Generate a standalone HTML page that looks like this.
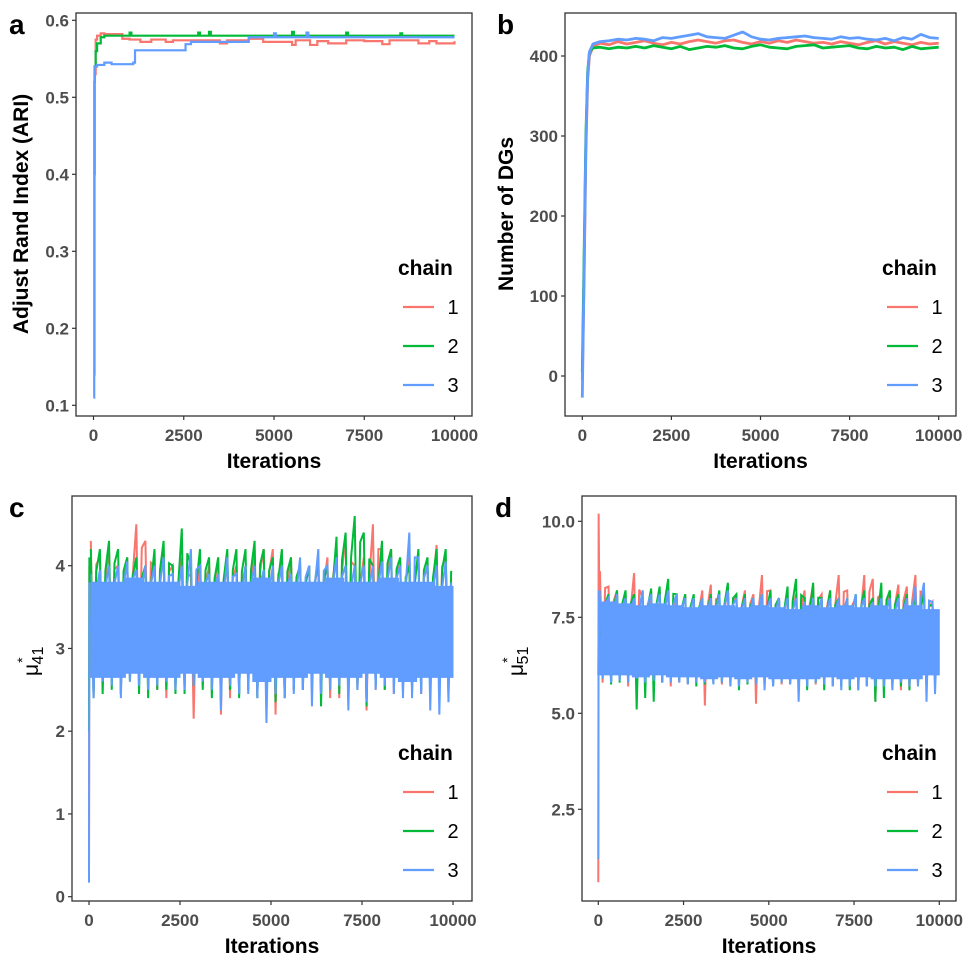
<!DOCTYPE html>
<html><head><meta charset="utf-8">
<style>
html,body{margin:0;padding:0;background:#fff;}
svg{display:block;font-family:"Liberation Sans",sans-serif;}
.tick{font-size:17px;font-weight:bold;fill:#4d4d4d;}
.atitle{font-size:21px;font-weight:bold;fill:#000;}
.letter{font-size:28px;font-weight:bold;fill:#000;}
.legt{font-size:21px;font-weight:bold;fill:#000;}
.legl{font-size:20px;fill:#000;}
</style></head>
<body>
<svg id="fig" width="969" height="969" viewBox="0 0 969 969"></svg>
<script>
// ---------- Panel a: ARI step traces ----------
const aRedIter = [0,30,60,100,200,300,800,1000,1300,1600,2000,2200,3500,3700,4300,4700,5500,5600,6000,6200,6500,7000,7500,8000,8200,9000,9300,9500,10000];
const aRedVal  = [0.14,0.53,0.575,0.58,0.583,0.582,0.576,0.575,0.572,0.575,0.572,0.574,0.57,0.574,0.576,0.572,0.568,0.574,0.568,0.573,0.57,0.574,0.573,0.569,0.574,0.57,0.573,0.57,0.573];
const aGreenIter = [0,30,60,100,200,300,500,1000,1050,2900,2950,3200,3250,5500,5550,7000,7050,8500,8550,10000];
const aGreenVal  = [0.4,0.54,0.56,0.57,0.578,0.58,0.58,0.584,0.58,0.584,0.58,0.585,0.58,0.585,0.58,0.584,0.58,0.583,0.58,0.58];
const aBlueIter = [0,20,40,100,300,500,1100,1150,2500,2550,2700,4300,5000,5050,5900,5950,10000];
const aBlueVal  = [0.11,0.52,0.54,0.542,0.545,0.543,0.545,0.561,0.561,0.569,0.572,0.578,0.583,0.578,0.584,0.578,0.578];
const aYTicks = [0.1,0.2,0.3,0.4,0.5,0.6];
const aYTickLabels = ["0.1","0.2","0.3","0.4","0.5","0.6"];

// ---------- Panel b: number of DGs ----------
const bIter = [0,50,100,150,200,300,500,750,1000,1250,1500,1750,2000,2250,2500,2750,3000,3250,3500,3750,4000,4250,4500,4750,5000,5250,5500,5750,6000,6250,6500,6750,7000,7250,7500,7750,8000,8250,8500,8750,9000,9250,9500,9750,10000];
const bRed   = [-5,120,280,370,400,412,416,414,418,415,417,419,416,414,417,415,418,420,418,416,419,420,417,415,418,416,419,417,420,418,416,417,415,418,416,414,417,419,415,418,416,414,417,415,416];
const bGreen = [5,150,300,380,405,410,411,409,411,410,412,410,413,411,409,412,408,410,412,411,413,410,409,412,414,411,410,409,412,413,414,410,411,412,413,410,409,412,410,411,408,412,409,410,411];
const bBlue  = [-27,130,290,375,405,415,418,419,421,420,422,421,419,423,422,424,426,428,424,423,422,426,430,424,421,420,422,423,424,425,423,422,421,424,422,423,421,420,422,419,423,421,427,423,422];
const bYTicks = [0,100,200,300,400];
const bYTickLabels = ["0","100","200","300","400"];

// ---------- Panel c: mu*41 (per-bin extremes, 40 bins of 250 iterations) ----------
const cInitIter = [0,10,30];
const cRedInit = [0.3,4.0,3.2];
const cGreenInit = [2.0,4.1,3.2];
const cBlueInit = [0.17,3.8,3.2];
const cRedHi = [4.3,4.1,4.2,4.0,4.1,4.5,4.3,4.0,4.2,4.0,4.1,3.9,4.0,4.0,4.1,4.1,4.0,4.0,4.2,4.2,4.2,4.0,4.1,4.0,4.0,4.0,4.1,4.2,4.35,4.0,4.1,4.5,4.2,4.2,4.0,4.1,4.1,4.0,4.25,4.1];
const cRedLo = [2.4,2.5,2.6,2.45,2.6,2.6,2.55,2.5,2.4,2.5,2.5,2.15,2.55,2.5,2.2,2.4,2.45,2.5,2.4,2.3,2.2,2.4,2.5,2.5,2.5,2.45,2.4,2.4,2.35,2.5,2.25,2.5,2.5,2.45,2.5,2.5,2.45,2.5,2.5,2.5];
const cGreenHi = [4.2,4.2,4.3,4.2,4.1,4.1,4.0,4.2,4.3,4.0,4.45,4.0,4.2,4.1,4.1,4.2,4.2,4.2,4.3,4.2,4.1,4.2,4.1,4.0,4.0,4.1,4.0,4.35,4.4,4.6,4.4,4.0,4.3,4.2,4.1,4.0,4.2,4.1,4.2,4.2];
const cGreenLo = [2.4,2.45,2.5,2.45,2.6,2.45,2.4,2.5,2.5,2.45,2.45,2.55,2.5,2.4,2.35,2.5,2.4,2.5,2.4,2.5,2.35,2.4,2.5,2.5,2.5,2.3,2.5,2.45,2.4,2.5,2.3,2.55,2.5,2.6,2.5,2.5,2.5,2.45,2.5,2.45];
const cBlueHi = [3.9,3.95,4.0,4.0,4.05,3.95,4.0,4.0,4.1,3.9,4.0,4.2,4.0,3.9,3.9,4.1,3.9,4.0,4.0,3.95,4.0,4.0,3.9,4.1,4.0,4.2,4.0,4.1,4.0,4.0,4.0,4.0,4.05,4.1,4.0,4.4,4.1,4.0,4.0,4.05];
const cBlueLo = [2.4,2.6,2.55,2.4,2.6,2.55,2.5,2.55,2.6,2.5,2.5,2.55,2.6,2.5,2.25,2.55,2.45,2.45,2.4,2.1,2.45,2.4,2.45,2.5,2.3,2.45,2.5,2.55,2.25,2.5,2.35,2.5,2.55,2.45,2.4,2.4,2.45,2.25,2.2,2.35];
const cBlueCoreHi = [3.8,3.8,3.85,3.8,3.8,3.75,3.8,3.8,3.8,3.85,3.8,3.8,3.8,3.85,3.8,3.8,3.85,3.8,3.8,3.75];
const cBlueCoreLo = [2.65,2.65,2.7,2.65,2.65,2.7,2.65,2.65,2.7,2.6,2.65,2.65,2.7,2.65,2.65,2.7,2.65,2.6,2.65,2.65];
const cYTicks = [0,1,2,3,4];
const cYTickLabels = ["0","1","2","3","4"];

// ---------- Panel d: mu*51 ----------
const dInitIter = [0,10,30];
const dRedInit = [0.6,10.2,8.0];
const dGreenInit = [6.0,7.5,7.0];
const dBlueInit = [1.2,8.2,7.0];
const dRedHi = [8.7,8.3,8.2,8.1,8.65,8.0,8.1,8.2,8.0,8.0,8.1,8.0,8.2,8.35,8.0,8.3,8.1,8.2,8.1,8.6,8.2,8.0,8.0,8.1,8.2,8.35,8.1,8.2,8.6,8.2,8.0,8.6,8.5,8.1,8.2,8.35,8.3,8.6,8.1,7.9];
const dRedLo = [5.8,5.8,5.9,5.7,5.8,5.75,5.8,5.8,5.7,5.8,5.75,5.8,5.2,5.8,5.75,5.8,5.8,5.8,5.25,5.8,5.7,5.75,5.8,5.7,5.8,5.75,5.7,5.8,5.7,5.7,5.7,5.75,5.3,5.7,5.65,5.6,5.6,5.7,5.8,5.9];
const dGreenHi = [8.2,8.1,8.2,8.2,8.1,8.2,8.25,8.3,8.5,8.1,8.1,8.1,8.0,8.1,8.2,8.4,8.1,8.1,8.0,8.1,8.2,8.0,8.3,8.5,8.0,8.4,8.0,8.2,8.0,8.0,8.1,8.2,8.0,8.4,8.2,8.1,8.1,8.0,8.2,7.8];
const dGreenLo = [5.9,5.75,5.8,5.9,5.1,5.4,5.3,5.8,5.9,5.85,5.8,5.7,5.75,5.8,5.8,5.7,5.6,5.75,5.8,5.7,5.7,5.8,5.75,5.7,5.6,5.8,5.6,5.7,5.7,5.6,5.6,5.7,5.3,5.4,5.7,5.7,5.6,5.8,5.7,5.9];
const dBlueHi = [8.2,8.0,8.1,8.0,8.0,8.2,8.1,8.1,8.2,8.1,8.0,8.0,8.0,8.0,8.1,8.2,8.0,8.0,8.0,8.1,8.0,8.0,8.0,8.0,7.9,8.0,8.0,8.0,8.0,8.0,8.1,8.0,7.9,8.0,8.0,8.0,8.0,8.3,8.4,7.9];
const dBlueLo = [5.9,5.8,5.85,5.8,5.9,5.8,5.85,5.8,5.8,5.8,5.75,5.8,5.8,5.75,5.8,5.7,5.7,5.8,5.75,5.6,5.7,5.8,5.75,5.3,5.7,5.8,5.75,5.7,5.6,5.7,5.6,5.7,5.7,5.7,5.6,5.8,5.7,5.7,5.3,5.5];
const dBlueCoreHi = [7.9,7.85,7.8,7.85,7.8,7.75,7.8,7.8,7.75,7.8,7.75,7.7,7.8,7.75,7.8,7.75,7.8,7.7,7.8,7.7];
const dBlueCoreLo = [6.0,6.0,5.95,6.0,5.95,5.95,5.9,5.95,5.9,5.95,5.9,5.9,5.9,5.95,5.9,5.95,5.9,5.9,5.9,6.0];
const dYTicks = [2.5,5.0,7.5,10.0];
const dYTickLabels = ["2.5","5.0","7.5","10.0"];

const xTicks = [0,2500,5000,7500,10000];
const xTickLabels = ["0","2500","5000","7500","10000"];
const chains = ["1","2","3"];
const COLORS = ["#F8766D","#00BA38","#619CFF"];

const NS = "http://www.w3.org/2000/svg";
const svg = document.getElementById("fig");
function mk(tag, attrs, parent){
  const e = document.createElementNS(NS, tag);
  for (const k in attrs) e.setAttribute(k, attrs[k]);
  (parent||svg).appendChild(e);
  return e;
}
function linScale(d0,d1,r0,r1){ return v => r0 + (v-d0)*(r1-r0)/(d1-d0); }

function frame(P, g){
  const box = mk("rect",{x:P.bx0,y:P.by0,width:P.bx1-P.bx0,height:P.by1-P.by0,fill:"none",stroke:"#333",
    "stroke-width":1.3},g);
  
  
  P.yTicks.forEach((t,i)=>{
    const y = P.y(t);
    const tk = mk("line",{x1:P.bx0-4,x2:P.bx0,y1:y,y2:y,stroke:"#333","stroke-width":1.2},g);
    
    
    const lb = mk("text",{x:P.bx0-7,y:y+6,"text-anchor":"end",class:"tick"},g);
    lb.textContent = P.yLabels[i];
    
    
  });
  xTicks.forEach((t,i)=>{
    const x = P.x(t);
    const tk = mk("line",{x1:x,x2:x,y1:P.by1,y2:P.by1+4,stroke:"#333","stroke-width":1.2},g);
    
    
    const lb = mk("text",{x:x,y:P.by1+25,"text-anchor":"middle",class:"tick"},g);
    lb.textContent = xTickLabels[i];
    
    
  });
  const xt = mk("text",{x:(P.bx0+P.bx1)/2,y:P.by1+52,"text-anchor":"middle",class:"atitle"},g);
  xt.textContent = "Iterations";
  
  
  const lt = mk("text",{x:P.letterX,y:P.by0+21,class:"letter"},g);
  lt.textContent = P.letter;
  
  
  const lg = mk("g",{},g);
  
  
  const ttl = mk("text",{x:P.bx1-74,y:P.legY,class:"legt"},lg);
  ttl.textContent = "chain";
  
  
  chains.forEach((c,i)=>{
    const ly = P.legY + 32 + i*39;
    const ln = mk("line",{x1:P.bx1-69,x2:P.bx1-38,y1:ly,y2:ly,stroke:COLORS[i],"stroke-width":2.2},lg);
    
    
    const tx = mk("text",{x:P.bx1-19,y:ly+7,"text-anchor":"middle",class:"legl"},lg);
    tx.textContent = c;
    
    
  });
}
function clip(P,id){
  const cp = mk("clipPath",{id:id});
  mk("rect",{x:P.bx0,y:P.by0,width:P.bx1-P.bx0,height:P.by1-P.by0},cp);
}
function stepPath(P, it, vals){
  let d = "M"+P.x(it[0])+","+P.y(vals[0]);
  for(let i=1;i<it.length;i++){ d += " H"+P.x(it[i])+" V"+P.y(vals[i]); }
  return d;
}
function linePath(P, it, vals){
  return it.map((t,i)=>(i?"L":"M")+P.x(t)+","+P.y(vals[i])).join(" ");
}
function zigPath(P, hi, lo){
  const n = hi.length, bw = 10000/n;
  let d = "";
  for(let i=0;i<n;i++){
    const c = bw*(i+0.5);
    d += (i?"L":"M")+P.x(c-bw*0.3)+","+P.y(hi[i])+" L"+P.x(c)+","+P.y(lo[i])+" L"+P.x(c+bw*0.3)+","+P.y(hi[i]*0.5+lo[i]*0.5+ (hi[i]-lo[i])*0.35)+" ";
  }
  return d;
}
function bandPath(P, hi, lo){
  const n = hi.length, bw = 10000/n;
  let d = "";
  for(let i=0;i<n;i++) d += (i?"L":"M")+P.x(bw*i)+","+P.y(hi[i])+" L"+P.x(bw*(i+1))+","+P.y(hi[i])+" ";
  for(let i=n-1;i>=0;i--) d += "L"+P.x(bw*(i+1))+","+P.y(lo[i])+" L"+P.x(bw*i)+","+P.y(lo[i])+" ";
  return d+"Z";
}

// ----- Panel A -----
const PA = {bx0:76,bx1:472,by0:13,by1:416,letter:"a",letterX:9,legY:275,
  x:linScale(0,10000,93.5,454.5), y:linScale(0.1,0.6,405.3,20.3), yTicks:aYTicks, yLabels:aYTickLabels};
const gA = mk("g",{});  
clip(PA,"cA");
const seriesA = [[aRedIter,aRedVal],[aGreenIter,aGreenVal],[aBlueIter,aBlueVal]];
seriesA.forEach((s,i)=>{
  const p = mk("path",{d:stepPath(PA,s[0],s[1]),fill:"none",stroke:COLORS[i],"stroke-width":2.2,"clip-path":"url(#cA)"},gA);
  
  
});
frame(PA,gA);
const ytA = mk("text",{x:0,y:0,transform:"translate(28,214) rotate(-90)","text-anchor":"middle",class:"atitle"},gA);
ytA.textContent = "Adjust Rand Index (ARI)";



// ----- Panel B -----
const PB = {bx0:565,bx1:956,by0:13,by1:416,letter:"b",letterX:497,legY:275,
  x:linScale(0,10000,582.3,938.7), y:linScale(0,400,376,56), yTicks:bYTicks, yLabels:bYTickLabels};
const gB = mk("g",{});  
clip(PB,"cB");
[bRed,bGreen,bBlue].forEach((s,i)=>{
  const p = mk("path",{d:linePath(PB,bIter,s),fill:"none",stroke:COLORS[i],"stroke-width":2.8,"stroke-linejoin":"bevel","clip-path":"url(#cB)"},gB);
  
  
});
frame(PB,gB);
const ytB = mk("text",{x:0,y:0,transform:"translate(513,214) rotate(-90)","text-anchor":"middle",class:"atitle"},gB);
ytB.textContent = "Number of DGs";



// ----- Noisy trace panels -----
function noisyPanel(P, gid, name, init, initIter, his, los, coreHi, coreLo){
  const g = mk("g",{});  
  clip(P,gid);
  for(let i=0;i<3;i++){
    const z = mk("path",{d:zigPath(P,his[i],los[i]),fill:"none",stroke:COLORS[i],"stroke-width":2,"clip-path":"url(#"+gid+")"},g);
    
    
    if(i==2){
      const b = mk("path",{d:bandPath(P,coreHi,coreLo),fill:COLORS[2],stroke:COLORS[2],"stroke-width":1,"clip-path":"url(#"+gid+")"},g);
      
      
    }
  }
  for(let i=0;i<3;i++){
    const s = mk("path",{d:linePath(P,initIter,init[i]),fill:"none",stroke:COLORS[i],"stroke-width":2,"clip-path":"url(#"+gid+")"},g);
    
    
  }
  frame(P,g);
  return g;
}
const PC = {bx0:72,bx1:472,by0:496,by1:901,letter:"c",letterX:9,legY:760,
  x:linScale(0,10000,89,453), y:linScale(0,4,896.7,565.7), yTicks:cYTicks, yLabels:cYTickLabels};
const gC = noisyPanel(PC,"cC","panel-c-mu41",[cRedInit,cGreenInit,cBlueInit],cInitIter,
  [cRedHi,cGreenHi,cBlueHi],[cRedLo,cGreenLo,cBlueLo],cBlueCoreHi,cBlueCoreLo);
const ytC = mk("text",{x:0,y:0,transform:"translate(38,676) rotate(-90)","text-anchor":"start",style:"font-size:21px"},gC);
ytC.innerHTML = '<tspan>μ</tspan><tspan dy="-11" dx="1" font-size="14">*</tspan><tspan dy="16" dx="-7" font-size="16">41</tspan>';



const PD = {bx0:582,bx1:956,by0:496,by1:901,letter:"d",letterX:495,legY:760,
  x:linScale(0,10000,598.3,939.3), y:linScale(2.5,10,809.3,521.3), yTicks:dYTicks, yLabels:dYTickLabels};
const gD = noisyPanel(PD,"cD","panel-d-mu51",[dRedInit,dGreenInit,dBlueInit],dInitIter,
  [dRedHi,dGreenHi,dBlueHi],[dRedLo,dGreenLo,dBlueLo],dBlueCoreHi,dBlueCoreLo);
const ytD = mk("text",{x:0,y:0,transform:"translate(523,676) rotate(-90)","text-anchor":"start",style:"font-size:21px"},gD);
ytD.innerHTML = '<tspan>μ</tspan><tspan dy="-11" dx="1" font-size="14">*</tspan><tspan dy="16" dx="-7" font-size="16">51</tspan>';


</script>
</body></html>
